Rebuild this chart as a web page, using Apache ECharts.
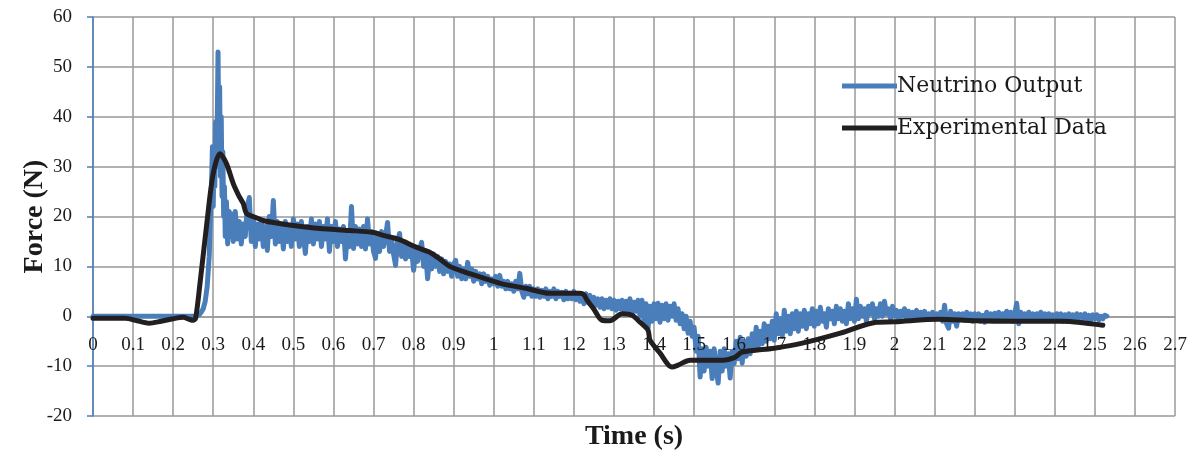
<!DOCTYPE html>
<html>
<head>
<meta charset="utf-8">
<script src="https://cdn.jsdelivr.net/npm/echarts@6/dist/echarts.min.js"></script>
<style>
html,body{margin:0;padding:0;background:#fff;}
#c{width:1194px;height:453px;}
</style>
</head>
<body>
<div id="c"></div>
<script>
// Axis settings (values)
const xTickMin = 0, xTickMax = 2.7, xTickStep = 0.1;
const yTickMin = -20, yTickMax = 60, yTickStep = 10;

const seriesNames = ['Neutrino Output', 'Experimental Data'];
const axisTitles = { x: 'Time (s)', y: 'Force (N)' };

// Neutrino Output: [time s, force N]
const neutrino = [
[0,0],[0.05,0],[0.1,0],[0.15,0],[0.2,0],[0.25,0],[0.26,0.1],[0.265,0.3],[0.27,0.8],[0.275,1.5],[0.28,3],[0.285,6],[0.29,12],[0.293,20],[0.296,27],[0.298,34],
[0.3,22],[0.302,33],[0.304,26],[0.306,39],[0.308,30],[0.31,38],[0.312,53],[0.314,35],[0.316,46],[0.318,28],[0.32,40],[0.322,24],[0.324,33],[0.326,20],[0.328,26],
[0.33,16],[0.333,23],[0.336,14.5],[0.34,21],[0.343,16],[0.346,20.5],[0.35,15],[0.355,21],[0.36,15.5],[0.365,19],[0.37,14.5],[0.375,18.5],[0.38,16],[0.385,22],[0.39,23.8],[0.395,15],
[0.4,19.5],[0.405,14],[0.41,18.5],[0.415,15.5],[0.42,19],[0.425,14],[0.43,18],[0.435,13.2],[0.44,20],[0.445,16],[0.45,23.2],[0.455,14.5],[0.46,19],[0.465,15],[0.47,18.5],[0.475,13.5],[0.48,19],[0.485,15],[0.49,18],[0.495,14],
[0.5,19.5],[0.505,15.5],[0.51,18.5],[0.515,14],[0.52,19],[0.525,16],[0.53,12.6],[0.535,18],[0.54,15],[0.545,19.5],[0.55,14.5],[0.555,18.5],[0.56,15.5],[0.565,19],[0.57,14],[0.575,18],[0.58,15.5],[0.585,19.5],[0.59,13],[0.595,18],
[0.6,15],[0.605,19],[0.61,14],[0.615,17.5],[0.62,15],[0.625,18],[0.63,11.5],[0.635,17],[0.64,14],[0.645,22],[0.65,13.6],[0.655,18],[0.66,14.5],[0.665,17.5],[0.67,14],[0.675,18],[0.68,13.5],[0.685,19.5],[0.69,14.5],[0.695,17],
[0.7,13],[0.705,11.6],[0.71,16.5],[0.715,13],[0.72,17],[0.725,14],[0.73,16],[0.735,18.8],[0.74,13],[0.745,15.5],[0.75,12.5],[0.755,10.2],[0.76,15],[0.765,16.6],[0.77,12],[0.775,14.5],[0.78,11.5],[0.785,14],[0.79,12],[0.795,13.5],
[0.8,9.2],[0.805,13],[0.81,11],[0.815,13.5],[0.82,14.8],[0.825,10],[0.83,12.5],[0.835,7.5],[0.84,12],[0.845,9.5],[0.85,12.5],[0.855,10],[0.86,12],[0.865,9],[0.87,11.5],[0.875,8.5],[0.88,11],[0.885,9],[0.89,10.5],[0.895,8],
[0.9,10.5],[0.905,11.2],[0.91,8],[0.915,10],[0.92,7.5],[0.925,9.5],[0.93,7.5],[0.935,10.8],[0.94,8],[0.945,9.5],[0.95,7],[0.955,9],[0.96,7.5],[0.965,8.5],[0.97,6.5],[0.975,8.5],[0.98,7],[0.985,8],[0.99,6.2],[0.995,7.5],
[1,6.5],[1.005,8],[1.01,6],[1.015,8.2],[1.02,6],[1.025,7],[1.03,5.5],[1.035,7],[1.04,5.5],[1.045,6.5],[1.05,5],[1.055,7],[1.06,5.5],[1.065,8.6],[1.07,5],[1.075,3.8],[1.08,6],[1.085,4.5],[1.09,6],[1.095,4],
[1.1,5.5],[1.105,4],[1.11,5.5],[1.115,3.8],[1.12,5.2],[1.125,4],[1.13,5.5],[1.135,3.5],[1.14,5],[1.145,4],[1.15,5.5],[1.155,3.5],[1.16,5],[1.165,4],[1.17,4.8],[1.175,3.3],[1.18,5],[1.185,3.5],[1.19,4.6],[1.195,3.5],
[1.2,5],[1.205,3.3],[1.21,4.5],[1.215,3],[1.22,4.2],[1.225,2.5],[1.23,4.5],[1.235,2.8],[1.24,4.2],[1.245,2.5],[1.25,3.8],[1.255,2.2],[1.26,3.5],[1.265,1.8],[1.27,3.5],[1.275,1.5],[1.28,3.2],[1.285,1.8],[1.29,3.5],[1.295,1.5],
[1.3,3.2],[1.305,1.2],[1.31,3],[1.315,1.5],[1.32,3.2],[1.325,1],[1.33,3],[1.335,1.2],[1.34,3.5],[1.345,0.5],[1.35,2.8],[1.355,1],[1.36,3.2],[1.365,0],[1.37,3.2],[1.375,-1],[1.38,2.5],[1.385,-2.4],[1.39,2],[1.395,-1],
[1.4,2.5],[1.405,-0.5],[1.41,2.6],[1.415,-1.2],[1.42,2.2],[1.425,-0.5],[1.43,2.5],[1.435,-0.8],[1.44,2],[1.445,0],[1.45,2.5],[1.455,-0.8],[1.46,1.5],[1.465,-1.5],[1.47,0.5],[1.475,-2.5],[1.48,0],[1.485,-3.4],[1.49,-1],[1.495,-4],
[1.5,-2.2],[1.505,-7],[1.51,-4],[1.515,-12.2],[1.52,-6.5],[1.525,-11],[1.53,-6.2],[1.535,-10],[1.54,-7],[1.545,-12.5],[1.55,-6.5],[1.555,-10.5],[1.56,-13.4],[1.565,-7],[1.57,-11],[1.575,-6.5],[1.58,-10],[1.585,-7.5],[1.59,-12.4],[1.595,-7],
[1.6,-9.5],[1.605,-5],[1.61,-8.5],[1.615,-4.2],[1.62,-9.4],[1.625,-5],[1.63,-8],[1.635,-4.5],[1.64,-7.5],[1.645,-3.5],[1.65,-6.8],[1.655,-2.2],[1.66,-6],[1.665,-3],[1.67,-5.5],[1.675,-1.5],[1.68,-5],[1.685,-2],[1.69,-4.5],[1.695,-1],
[1.7,-4.8],[1.705,0.5],[1.71,-3.5],[1.715,-0.5],[1.72,-4],[1.725,1.2],[1.73,-3],[1.735,0],[1.74,-3.5],[1.745,0.5],[1.75,-2.5],[1.755,1],[1.76,-3],[1.765,0.5],[1.77,-2],[1.775,1.2],[1.78,-2.5],[1.785,0.5],[1.79,-1.5],[1.795,1.5],
[1.8,-2],[1.805,1],[1.81,-1.5],[1.815,1.8],[1.82,-1],[1.825,0.5],[1.83,-2.2],[1.835,1.5],[1.84,-0.5],[1.845,1],[1.85,-1.5],[1.855,2],[1.86,-0.5],[1.865,1.5],[1.87,-1],[1.875,1],[1.88,-1.5],[1.885,2.5],[1.89,-0.5],[1.895,1.5],
[1.9,-1],[1.905,3.4],[1.91,-0.5],[1.915,2],[1.92,0],[1.925,1.5],[1.93,-1],[1.935,2],[1.94,0.5],[1.945,2.5],[1.95,-0.5],[1.955,1.5],[1.96,0],[1.965,2.5],[1.97,0],[1.975,3],[1.98,0.5],[1.985,1.5],[1.99,-0.5],[1.995,2],
[2,0],[2.005,1.2],[2.01,-0.5],[2.015,1],[2.02,0],[2.025,1.5],[2.03,-0.5],[2.035,1],[2.04,-0.2],[2.045,0.8],[2.05,0],[2.055,1.2],[2.06,-0.5],[2.065,0.8],[2.07,0],[2.075,1],[2.08,-0.5],[2.085,0.5],[2.09,0],[2.095,0.8],
[2.1,-0.5],[2.105,0.5],[2.11,-0.2],[2.115,0.8],[2.12,-1],[2.125,2.2],[2.13,-1.5],[2.135,-2.4],[2.14,1],[2.145,-1],[2.15,0.5],[2.155,-2],[2.16,0.5],[2.165,-0.5],[2.17,0.5],[2.175,-0.8],[2.18,0.8],[2.185,-0.5],[2.19,0.5],[2.195,-1],
[2.2,0.5],[2.205,-0.5],[2.21,0.5],[2.215,-1],[2.22,0.2],[2.225,-1.2],[2.23,0.8],[2.235,-0.5],[2.24,0.5],[2.245,-0.8],[2.25,0.6],[2.255,-0.5],[2.26,0.8],[2.265,-0.8],[2.27,0.5],[2.275,-0.5],[2.28,1],[2.285,-0.5],[2.29,0.8],[2.295,-1],
[2.3,0.5],[2.305,2.6],[2.31,-1.5],[2.315,0.8],[2.32,-0.5],[2.325,0.5],[2.33,-0.8],[2.335,0.8],[2.34,-0.5],[2.345,0.5],[2.35,-0.8],[2.355,0.5],[2.36,-0.5],[2.365,0.8],[2.37,-0.5],[2.375,0.5],[2.38,-0.8],[2.385,0.5],[2.39,-0.5],[2.395,0.3],
[2.4,-0.8],[2.405,0.5],[2.41,-0.5],[2.415,0.5],[2.42,-1],[2.425,0.3],[2.43,-0.5],[2.435,0.5],[2.44,-0.5],[2.445,0.3],[2.45,-0.8],[2.455,0.5],[2.46,-0.3],[2.465,0.3],[2.47,-0.5],[2.475,0.5],[2.48,-0.5],[2.485,0.2],[2.49,-0.8],[2.495,0.3],
[2.5,-0.5],[2.505,0.3],[2.51,-0.8],[2.515,0],[2.52,-0.5],[2.525,0.2],[2.53,0]
];

// Experimental Data: [time s, force N]
const experimental = [
[0,-0.4],[0.05,-0.4],[0.08,-0.4],[0.11,-0.9],[0.14,-1.4],[0.17,-1.0],[0.2,-0.5],[0.225,-0.2],[0.24,-0.6],[0.25,-0.8],[0.256,-0.4],
[0.267,6.6],[0.284,18.6],[0.3,28.6],[0.317,32.6],[0.333,30.6],[0.35,26.6],[0.365,24],[0.375,22.6],[0.383,20.6],[0.4,20],[0.425,19.2],
[0.45,18.8],[0.5,18.2],[0.566,17.6],[0.64,17.2],[0.7,16.8],[0.724,16.2],[0.76,15.5],[0.808,13.8],[0.841,12.8],[0.87,11.2],[0.89,10],
[0.93,8.8],[0.973,7.7],[1.016,6.6],[1.08,5.6],[1.14,4.6],[1.215,4.6],[1.225,4.3],[1.233,3.2],[1.25,1.4],[1.27,-0.8],[1.29,-0.9],
[1.32,0.5],[1.345,0.2],[1.365,-1.2],[1.385,-2.8],[1.39,-4.8],[1.415,-7.4],[1.445,-10.2],[1.46,-9.8],[1.49,-8.8],[1.573,-8.8],[1.6,-8.3],
[1.62,-7.2],[1.7,-6.4],[1.77,-5.4],[1.865,-3.4],[1.955,-1.2],[2.0,-1.1],[2.11,-0.6],[2.2,-0.9],[2.3,-1],[2.42,-1],[2.47,-1.3],[2.52,-1.8]
];

const FONT = 'Liberation Serif';
const GRID = { left: 93, right: 19, top: 17, bottom: 37 };
const plotH = 453 - GRID.top - GRID.bottom;
// distance from bottom of plot to the zero line (axis placed through y = 0)
const zeroOffset = plotH * (0 - yTickMin) / (yTickMax - yTickMin);
const tickFmt = v => String(parseFloat(v.toFixed(1)));

const chart = echarts.init(document.getElementById('c'), null, {renderer: 'canvas'});
chart.setOption({
  animation: false,
  backgroundColor: '#ffffff',
  grid: Object.assign({ containLabel: false, outerBoundsMode: 'none' }, GRID),
  legend: {
    orient: 'vertical',
    left: 837, top: 69,
    itemWidth: 55, itemHeight: 5, itemGap: 18,
    icon: 'rect',
    data: seriesNames,
    textStyle: { fontFamily: 'DejaVu Serif', fontSize: 22, color: '#1a1a1a', padding: [0,0,0,-5], lineHeight: 24 }
  },
  xAxis: [{
    type: 'value', min: xTickMin, max: xTickMax, interval: xTickStep,
    offset: -zeroOffset,
    name: axisTitles.x, nameLocation: 'middle', nameGap: 107,
    nameTextStyle: { fontFamily: FONT, fontWeight: 'bold', fontSize: 28, color: '#1a1a1a' },
    axisLine: { show: true, onZero: false, lineStyle: { color: '#999', width: 1.5 } },
    axisTick: { show: false },
    axisLabel: { show: false },
    splitLine: { show: true, lineStyle: { color: '#999', width: 1.5 } }
  }, {
    // label-only axis drawn above the data, like the reference
    type: 'value', min: xTickMin, max: xTickMax, interval: xTickStep,
    position: 'bottom', offset: -zeroOffset, z: 10,
    axisLine: { show: false, onZero: false }, axisTick: { show: false }, splitLine: { show: false },
    axisLabel: { margin: 19, fontFamily: FONT, fontSize: 19, color: '#1a1a1a',
      formatter: tickFmt, showMinLabel: true, showMaxLabel: true }
  }],
  yAxis: {
    type: 'value', min: yTickMin, max: yTickMax, interval: yTickStep,
    name: axisTitles.y, nameLocation: 'middle', nameGap: 44, nameRotate: 90, nameMoveOverlap: false,
    nameTextStyle: { fontFamily: FONT, fontWeight: 'bold', fontSize: 28, color: '#1a1a1a' },
    axisLine: { show: true, onZero: false, lineStyle: { color: '#4a7ebb', width: 1.5 } },
    axisTick: { show: true, length: 6, lineStyle: { color: '#4a7ebb', width: 1.5 } },
    axisLabel: { margin: 21, fontFamily: FONT, fontSize: 19, color: '#1a1a1a' },
    splitLine: { show: true, lineStyle: { color: '#999', width: 1.5 } }
  },
  series: [
    { name: seriesNames[0], type: 'line', data: neutrino, showSymbol: false, symbol: 'none',
      color: '#4a7ebb', lineStyle: { color: '#4a7ebb', width: 5, join: 'round', cap: 'round' }, z: 2 },
    { name: seriesNames[1], type: 'line', data: experimental, showSymbol: false, symbol: 'none', smooth: 0.3,
      color: '#231f20', lineStyle: { color: '#231f20', width: 5, join: 'round', cap: 'round' }, z: 3 }
  ]
});
</script>
</body>
</html>
